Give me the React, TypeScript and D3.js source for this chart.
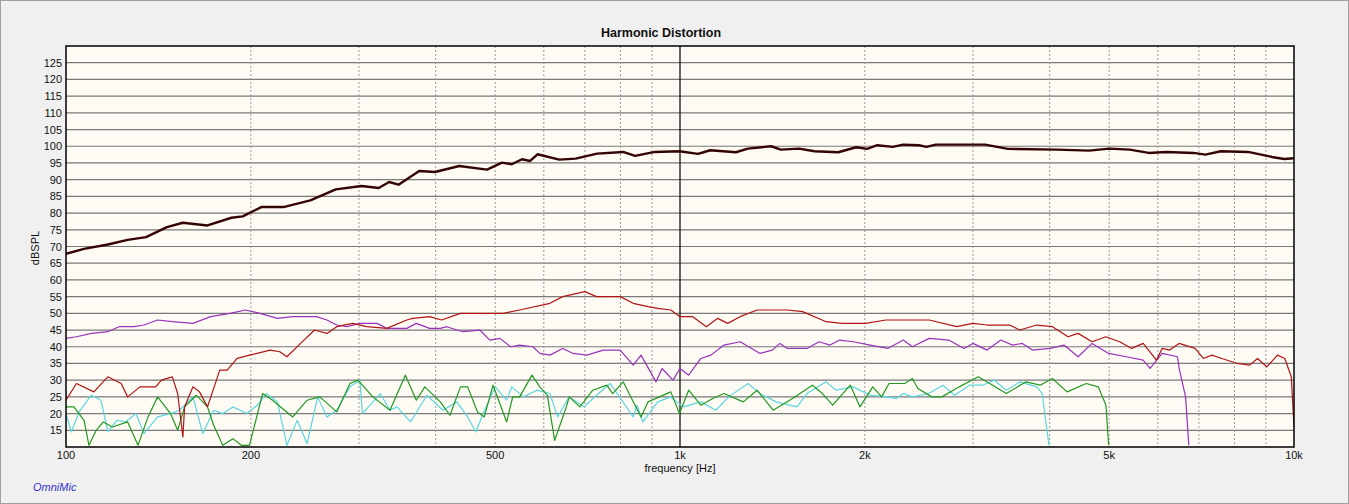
import * as React from "react";
import * as d3 from "d3";

// [frequency Hz, dBSPL]
const fundamental: [number, number][] = [
  [100, 67.8], [107, 69.3], [117, 70.6], [126, 72], [135, 72.8], [146, 75.8], [155, 77.1], [170, 76.3],
  [186, 78.6], [194, 79], [208, 81.8], [226, 81.8], [250, 83.8], [275, 87.1], [303, 88.1], [323, 87.5],
  [336, 89.3], [348, 88.5], [376, 92.6], [399, 92.3], [437, 94.1], [485, 93], [513, 95.1], [532, 94.6],
  [553, 96.1], [570, 95.6], [586, 97.6], [636, 96], [676, 96.3], [733, 97.8], [808, 98.3], [845, 97.1],
  [910, 98.3], [998, 98.5], [1070, 97.7], [1120, 98.8], [1233, 98.2], [1290, 99.3], [1407, 100], [1460, 99],
  [1563, 99.3], [1656, 98.5], [1810, 98.2], [1937, 99.7], [2018, 99.2], [2095, 100.3], [2220, 99.8],
  [2310, 100.5], [2450, 100.3], [2520, 99.8], [2610, 100.5], [3140, 100.5], [3420, 99.2], [4110, 99],
  [4640, 98.7], [5000, 99.3], [5400, 99], [5800, 98], [6200, 98.3], [6860, 98], [7170, 97.5], [7600, 98.5],
  [8420, 98.3], [9200, 96.8], [9640, 96.2], [10000, 96.4],
];

const harmonic2: [number, number][] = [
  [100, 24], [104, 29], [111, 26.5], [117, 31], [123, 29], [126, 25], [132, 28], [140, 28], [143, 30],
  [149, 31], [152, 26], [155, 13], [156, 22], [161, 28], [165, 26.5], [170, 22], [178, 33], [183, 33],
  [190, 36.5], [199, 37.5], [215, 39], [223, 38.5], [229, 37], [241, 41], [254, 45], [266, 44], [276, 46],
  [293, 47], [309, 46], [333, 45.5], [359, 48], [367, 48.5], [391, 49], [409, 48], [439, 50], [472, 50],
  [515, 50], [548, 51], [614, 53], [644, 55], [700, 56.5], [731, 55], [799, 55], [839, 53], [887, 52],
  [920, 51.5], [966, 51], [1000, 49], [1049, 49], [1104, 46], [1152, 48.5], [1196, 47], [1253, 49],
  [1335, 51], [1496, 51], [1584, 50.5], [1730, 47.5], [1836, 47], [2006, 47], [2165, 48], [2323, 48],
  [2546, 48], [2822, 46], [3000, 47], [3163, 46.5], [3442, 46.5], [3576, 45], [3810, 46.5], [4043, 46],
  [4285, 43], [4450, 44], [4690, 41.5], [4940, 43], [5200, 41.5], [5440, 39.5], [5680, 41], [5970, 36],
  [6100, 39.5], [6270, 39], [6500, 41], [6900, 39.5], [7120, 36.5], [7350, 37.5], [7630, 36.5], [8090, 35],
  [8470, 34.5], [8720, 36.5], [9030, 34], [9400, 37.5], [9660, 36.5], [9900, 31], [10000, 16],
];

const harmonic3: [number, number][] = [
  [100, 42.5], [104, 43], [110, 44], [117, 44.5], [122, 46], [129, 46], [134, 46.5], [141, 48], [149, 47.5],
  [161, 47], [172, 49], [185, 50], [196, 51], [207, 50], [221, 48.5], [234, 49], [256, 49], [266, 48],
  [276, 46.5], [287, 46], [301, 47], [321, 47], [333, 45.5], [359, 45.5], [372, 47], [391, 45.5], [407, 45.5],
  [417, 46], [443, 44.5], [472, 45], [490, 42], [509, 42.5], [530, 40], [548, 40.5], [576, 40], [591, 38],
  [614, 37.5], [644, 39.5], [670, 38], [705, 37.5], [750, 39], [799, 39], [839, 34.5], [864, 37.5], [914, 29.5],
  [935, 33.5], [974, 30], [1000, 33.5], [1033, 31.5], [1081, 36.5], [1123, 37.5], [1179, 40.5], [1253, 41.5],
  [1350, 38], [1413, 39], [1455, 41], [1496, 39.5], [1610, 39.5], [1685, 41.5], [1755, 40.5], [1820, 42],
  [1915, 41.5], [2040, 40.5], [2180, 39.5], [2310, 42], [2390, 40], [2546, 42.5], [2740, 42], [2900, 39.5],
  [3000, 41], [3163, 39], [3330, 42], [3480, 40.5], [3610, 41], [3750, 39], [4010, 39.5], [4220, 40.5],
  [4450, 37], [4690, 41], [4990, 38], [5330, 37], [5680, 36], [5830, 33.5], [6100, 38], [6460, 37],
  [6500, 33.5], [6660, 25], [6740, 10.5],
];

const harmonic4: [number, number][] = [
  [100, 22], [103, 22], [107, 18], [109, 10.5], [112, 15], [115, 17.5], [119, 16], [126, 17.5], [131, 10.5],
  [136, 19], [141, 25], [148, 20], [152, 15], [156, 22], [163, 25.5], [170, 22], [174, 16.5], [180, 10.5],
  [187, 12.5], [193, 10.5], [199, 10.5], [209, 26], [217, 24], [234, 19], [247, 24], [259, 25], [276, 20.5],
  [290, 29], [299, 30], [316, 25], [337, 21], [357, 31.5], [372, 24], [384, 28], [407, 23.5], [422, 19.5],
  [439, 28], [451, 28], [468, 20.5], [480, 19], [496, 28.5], [522, 17.5], [534, 25], [548, 25], [574, 31.5],
  [591, 28], [608, 25.5], [625, 12], [653, 22], [660, 25], [687, 22], [721, 27], [760, 28.5], [777, 26],
  [808, 29.5], [864, 19], [887, 23.5], [966, 26.5], [998, 20], [1033, 27], [1081, 22.5], [1131, 24.5],
  [1179, 26], [1268, 23.5], [1335, 27], [1418, 21], [1525, 24.5], [1643, 28.5], [1706, 26], [1773, 22.5],
  [1894, 28.5], [1964, 22], [2060, 28], [2130, 25], [2190, 29], [2323, 29], [2390, 30.5], [2440, 27.5],
  [2570, 25], [2670, 25], [2850, 28], [3060, 31], [3195, 29], [3400, 26], [3660, 29.5], [3860, 28.5],
  [4040, 30.5], [4270, 26.5], [4590, 29], [4800, 28], [4940, 22.5], [4990, 10.5],
];

const harmonic5: [number, number][] = [
  [100, 20], [102, 14.5], [105, 20.5], [110, 25.5], [114, 24], [117, 14.5], [121, 18], [125, 17.5],
  [130, 20], [134, 14], [141, 19], [148, 20], [153, 21], [161, 25], [167, 14], [174, 21], [180, 20],
  [187, 22], [197, 20], [205, 22.5], [212, 26], [221, 23.5], [229, 10.5], [238, 18], [247, 11], [257, 25],
  [266, 19], [276, 21], [290, 28], [301, 30], [304, 20], [325, 26], [337, 21], [346, 22], [364, 17.5],
  [387, 25.5], [411, 21], [433, 23.5], [451, 19], [465, 14.5], [478, 20], [500, 28], [522, 24], [532, 28],
  [556, 25], [584, 27], [614, 26], [632, 19], [660, 25], [698, 22], [731, 25.5], [770, 29], [839, 19],
  [851, 22.5], [870, 17.5], [920, 23.5], [966, 25], [1012, 22], [1081, 23.5], [1144, 21], [1200, 25],
  [1290, 29], [1350, 26], [1434, 23.5], [1550, 22], [1610, 26], [1730, 29.5], [1795, 27], [1915, 28],
  [2040, 25.5], [2180, 25], [2250, 24.5], [2310, 26], [2390, 25], [2540, 26], [2680, 28.5], [2800, 25.5],
  [2960, 28.5], [3110, 28.5], [3250, 30], [3400, 27], [3580, 29.5], [3810, 28], [3890, 26], [3940, 18],
  [3990, 10.5],
];

const series = [
  { name: "fundamental", data: fundamental, color: "#340404", width: 2.4 },
  { name: "H5", data: harmonic5, color: "#5cd6e0", width: 1.2 },
  { name: "H4", data: harmonic4, color: "#229922", width: 1.2 },
  { name: "H3", data: harmonic3, color: "#9933bb", width: 1.2 },
  { name: "H2", data: harmonic2, color: "#b01515", width: 1.2 },
];

const yTicks = d3.range(15, 130, 5);
const xLabelTicks: [number, string][] = [
  [100, "100"], [200, "200"], [500, "500"], [1000, "1k"], [2000, "2k"], [5000, "5k"], [10000, "10k"],
];
const xGrid = [200, 300, 400, 500, 600, 700, 800, 900, 2000, 3000, 4000, 5000, 6000, 7000, 8000, 9000];

const W = 1349, H = 504;
const m = { left: 66, right: 1294, top: 46, bottom: 447 };

export default function App() {
  const x = d3.scaleLog().domain([100, 10000]).range([m.left, m.right]);
  const y = d3.scaleLinear().domain([10, 130]).range([m.bottom, m.top]);
  const line = d3.line<[number, number]>()
    .x(d => x(d[0]))
    .y(d => y(Math.max(10, d[1])))
    .curve(d3.curveLinear);
  const font = "'Liberation Sans', Arial, sans-serif";

  return (
    <svg width={W} height={H} style={{ position: "absolute", left: 0, top: 0, fontFamily: font }}>
      <rect x={0.5} y={0.5} width={W - 1} height={H - 1} fill="#f0f0f0" stroke="#a0a0a0" />
      <text x={661} y={37} textAnchor="middle" fontSize={12.5} fontWeight="bold" fill="#111">Harmonic Distortion</text>
      <rect x={m.left} y={m.top} width={m.right - m.left} height={m.bottom - m.top} fill="#fefaf4" />
      <clipPath id="plot">
        <rect x={m.left} y={m.top} width={m.right - m.left} height={m.bottom - m.top} />
      </clipPath>
      {yTicks.map(t => (
        <g key={t}>
          <line x1={m.left} x2={m.right} y1={y(t)} y2={y(t)} stroke="#7a7a7a" strokeWidth={1.2} />
          <text x={62} y={y(t) + 4} textAnchor="end" fontSize={11} fill="#111">{t}</text>
        </g>
      ))}
      {xGrid.map(f => (
        <line key={f} x1={x(f)} x2={x(f)} y1={m.top} y2={m.bottom} stroke="#9a9a9a" strokeDasharray="2,2" />
      ))}
      <line x1={x(1000)} x2={x(1000)} y1={m.top} y2={m.bottom} stroke="#000" strokeWidth={1.2} />
      <g clipPath="url(#plot)">
        {series.map(s => (
          <path key={s.name} d={line(s.data) || ""} fill="none" stroke={s.color} strokeWidth={s.width} strokeLinejoin="round" />
        ))}
      </g>
      <rect x={m.left} y={m.top} width={m.right - m.left} height={m.bottom - m.top} fill="none" stroke="#000" strokeWidth={1.5} />
      {xLabelTicks.map(([f, l]) => (
        <text key={f} x={x(f)} y={459} textAnchor="middle" fontSize={11} fill="#111">{l}</text>
      ))}
      <text x={680} y={472} textAnchor="middle" fontSize={11} fill="#111">frequency [Hz]</text>
      <text transform="translate(39,248) rotate(-90)" textAnchor="middle" fontSize={11} fill="#111">dBSPL</text>
      <text x={33} y={491} fontSize={11} fontStyle="italic" fill="#3333cc">OmniMic</text>
    </svg>
  );
}
